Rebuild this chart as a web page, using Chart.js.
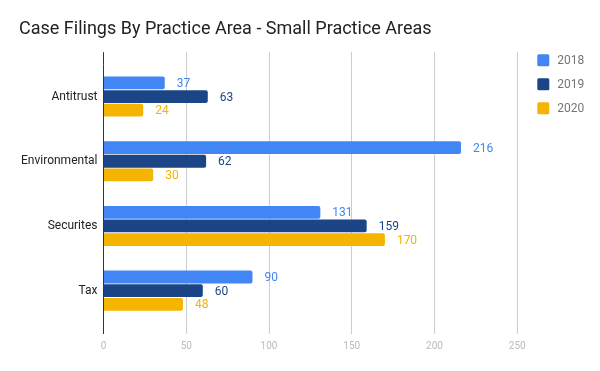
<!DOCTYPE html>
<html>
<head>
<meta charset="utf-8">
<title>Case Filings By Practice Area - Small Practice Areas</title>
<script src="https://cdn.jsdelivr.net/npm/chart.js@4"></script>
<style>
  body { margin: 0; background: #fff; }
  #wrap { width: 600px; height: 371px; position: relative; }
</style>
</head>
<body>
<div id="wrap"><canvas id="chart"></canvas></div>
<script>
// =====================
// Data
// =====================

const categories = ['Antitrust', 'Environmental', 'Securites', 'Tax'];
const seriesNames = ['2018', '2019', '2020'];
const values2018 = [37, 216, 131, 90];
const values2019 = [63, 62, 159, 60];
const values2020 = [24, 30, 170, 48];
const xTicks = [0, 50, 100, 150, 200, 250];

const colors = ['#4285F4', '#1C4587', '#F4B400'];
const FONT = 'Roboto';

// =====================
// Plugins
// =====================

// value labels to the right of each bar
const valueLabels = {
  id: 'valueLabels',
  afterDatasetsDraw(chart) {
    const ctx = chart.ctx;
    ctx.save();
    ctx.font = `12px ${FONT}`;
    ctx.textAlign = 'left';
    ctx.textBaseline = 'middle';
    chart.data.datasets.forEach((ds, i) => {
      const meta = chart.getDatasetMeta(i);
      ctx.fillStyle = ds.backgroundColor;
      meta.data.forEach((bar, j) => {
        ctx.fillText(String(ds.data[j]), bar.x + 12, bar.y + 1);
      });
    });
    ctx.restore();
  }
};

// legend on the right, top aligned
const sideLegend = {
  id: 'sideLegend',
  afterDraw(chart) {
    const { ctx, chartArea } = chart;
    const left = chartArea.right + 20;
    ctx.save();
    ctx.font = `12px ${FONT}`;
    ctx.textAlign = 'left';
    ctx.textBaseline = 'middle';
    chart.data.datasets.forEach((ds, i) => {
      const cy = chartArea.top - 4 + i * 24;
      ctx.fillStyle = ds.backgroundColor;
      ctx.beginPath();
      if (ctx.roundRect) ctx.roundRect(left, cy - 6, 12, 12, 1.5);
      else ctx.rect(left, cy - 6, 12, 12);
      ctx.fill();
      ctx.fillStyle = '#757575';
      ctx.fillText(ds.label, left + 20, cy + 1);
    });
    ctx.restore();
  }
};

const gridColor = c => (c.tick && c.tick.value === 0 ? '#333333' : '#cccccc');

// =====================
// Chart
// =====================

new Chart(document.getElementById('chart'), {
  type: 'bar',
  data: {
    labels: categories,
    datasets: [
      { label: seriesNames[0], data: values2018, backgroundColor: colors[0] },
      { label: seriesNames[1], data: values2019, backgroundColor: colors[1] },
      { label: seriesNames[2], data: values2020, backgroundColor: colors[2] }
    ]
  },
  options: {
    indexAxis: 'y',
    responsive: true,
    maintainAspectRatio: false,
    animation: false,
    layout: {
      padding: { left: 19, right: 82.7, top: 0, bottom: 13 }
    },
    datasets: {
      bar: {
        categoryPercentage: 0.633,
        barPercentage: 0.94,
        borderRadius: 2,
        borderSkipped: 'start'
      }
    },
    plugins: {
      legend: { display: false },
      tooltip: { enabled: false },
      title: {
        display: true,
        text: 'Case Filings By Practice Area - Small Practice Areas',
        align: 'start',
        color: '#222222',
        font: { family: FONT, size: 18, weight: 'normal' },
        padding: { top: 19, bottom: 11.6 }
      }
    },
    scales: {
      x: {
        type: 'linear',
        position: 'bottom',
        min: xTicks[0],
        max: xTicks[xTicks.length - 1],
        border: { display: false },
        grid: {
          color: gridColor,
          tickColor: gridColor,
          drawTicks: true,
          tickLength: 11
        },
        ticks: {
          stepSize: xTicks[1] - xTicks[0],
          padding: 6,
          color: '#bbbbbb',
          font: { family: FONT, size: 10 }
        }
      },
      x2: {
        type: 'linear',
        position: 'top',
        min: xTicks[0],
        max: xTicks[xTicks.length - 1],
        border: { display: false },
        grid: {
          drawOnChartArea: false,
          color: gridColor,
          tickColor: gridColor,
          drawTicks: true,
          tickLength: 12
        },
        ticks: { display: false, stepSize: xTicks[1] - xTicks[0] }
      },
      y: {
        border: { display: false },
        grid: { display: false, drawTicks: false },
        ticks: {
          padding: 6,
          color: '#222222',
          font: { family: FONT, size: 12 }
        },
        afterFit: s => { s.width = 84.5; }
      }
    }
  },
  plugins: [valueLabels, sideLegend]
});
</script>
</body>
</html>
